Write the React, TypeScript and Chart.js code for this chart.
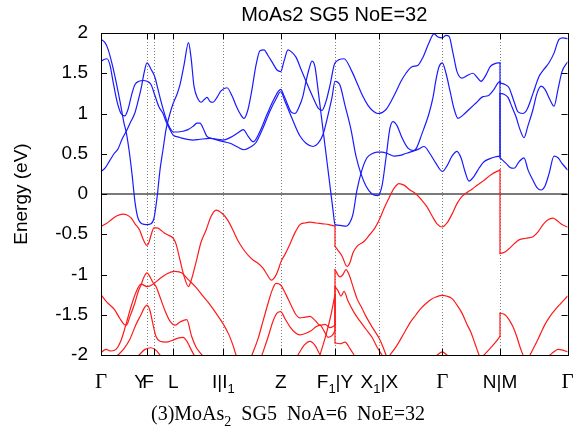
import React, { useEffect, useRef } from "react";
import { Chart, registerables } from "chart.js";
Chart.register(...registerables);

// High-symmetry k-path positions (path distance units) and their labels
const KPOINTS = [101, 146.7, 154, 173.3, 223.3, 280.7, 335, 379.3, 442.3, 500, 567.5];
const KLABELS = ["Γ", "Y", "F", "L", "I|I_1", "Z", "F_1|Y", "X_1|X", "Γ", "N|M", "Γ"];
const E_MIN = -2;
const E_MAX = 2;
const E_STEP = 0.5;

const TITLE = "MoAs2 SG5 NoE=32";
const CAPTION = "(3)MoAs_2  SG5  NoA=6  NoE=32";
const Y_TITLE = "Energy (eV)";

// Conduction bands (blue): [k, E(eV)]
const cb1: number[][] = [[101,1.92],[105,1.88],[108,1.8],[112,1.62],[116,1.4],[120,1.15],[124,0.88],[126,0.78],[129,0.55],[132,0.25],[135,-0.1],[138,-0.3],[142,-0.37],[146.7,-0.38],[151,-0.37],[154,-0.3],[157,-0.05],[160,0.3],[163,0.55],[166,0.8],[170,1.0],[173.3,1.13],[177,1.24],[180,1.36],[184,1.6],[188.5,1.88],[191,1.7],[194,1.34],[198,1.18],[201,1.14],[204,1.17],[207,1.2],[210,1.15],[213,1.14],[217,1.2],[221,1.28],[227,1.32],[232,1.22],[236,1.1],[240,1.0],[244,0.94],[248,1.05],[252,1.3],[256,1.6],[260,1.78],[264,1.79],[268,1.72],[273,1.62],[277,1.54],[280.7,1.52],[284,1.65],[288,1.79],[292,1.76],[296,1.7],[301,1.55],[306,1.4],[313,1.2],[318,1.07],[322,1.04],[326,1.15],[330,1.35],[335,1.63],[344,1.68],[352,1.52],[358,1.35],[363,1.21],[368,1.1],[373,1.03],[378,1.0],[386,1.05],[391,1.15],[396,1.27],[401,1.4],[406,1.5],[412,1.58],[418,1.6],[423,1.7],[429,1.88],[434,1.99],[438,1.95],[442.3,1.94],[446,1.97],[449,1.96],[453,1.75],[457,1.52],[462,1.44],[467,1.47],[473,1.5],[477,1.45],[481,1.4],[486,1.48],[490,1.58],[495,1.62],[500,1.63],[500,1.38],[505,1.36],[509,1.32],[514,1.15],[518,1.02],[522.7,1.0],[527,1.05],[533,1.25],[539,1.46],[544,1.55],[549,1.63],[554,1.75],[559,1.92],[563,1.94],[567.5,1.93]];
const cb2: number[][] = [[101,1.65],[104,1.67],[107,1.68],[110,1.6],[113,1.4],[117,1.15],[121,1.0],[124.7,0.97],[128,1.05],[132,1.25],[135,1.36],[139,1.4],[143,1.41],[147,1.4],[151,1.36],[155,1.22],[159,1.08],[163,1.0],[166,0.9],[170,0.8],[173.3,0.73],[178,0.71],[183,0.69],[193,0.67],[200,0.68],[210,0.69],[220,0.66],[230,0.63],[238,0.58],[244,0.55],[250,0.58],[256,0.64],[263,0.82],[270,1.03],[276,1.18],[280.7,1.27],[285,1.15],[290,1.0],[295,0.85],[300,0.72],[306,0.63],[313,0.59],[318,0.63],[323,0.74],[328,0.98],[332,1.2],[335,1.4],[340,1.35],[345,1.1],[351,0.8],[356,0.47],[361,0.25],[366,0.1],[372,0.0],[377.7,-0.02],[382,0.1],[386,0.45],[390,0.82],[393,0.9],[397,0.85],[402,0.7],[408,0.57],[414,0.54],[419,0.56],[424,0.59],[430,0.5],[436,0.38],[442.3,0.28],[447,0.35],[452,0.47],[457,0.53],[461,0.45],[465,0.28],[469,0.16],[474,0.22],[479,0.32],[484,0.4],[490,0.44],[495,0.46],[500,0.47],[500,1.25],[504,1.24],[508,1.2],[512,1.08],[516,0.96],[520,0.8],[524,0.7],[528,0.85],[533,1.05],[537,1.25],[541,1.34],[545,1.3],[550,1.17],[554,1.09],[558,1.3],[562,1.52],[567.5,1.64]];
const cb3: number[][] = [[101,0.28],[105,0.32],[110,0.42],[114,0.5],[118,0.56],[122,0.68],[126.3,0.78],[130,0.88],[134.7,1.0],[138,1.15],[141.3,1.32],[144,1.5],[147,1.63],[151,1.55],[154.7,1.46],[158,1.3],[161,1.15],[164.7,0.99],[168,0.87],[171,0.8],[173.3,0.77],[178,0.77],[183,0.78],[188,0.8],[193,0.84],[197,0.88],[200,0.88],[203,0.82],[206.7,0.72],[212,0.69],[218,0.68],[223,0.67],[230,0.7],[238,0.76],[243.3,0.8],[248,0.72],[253.3,0.65],[260,0.78],[266.7,0.98],[274,1.18],[280.7,1.3],[284,1.22],[288,1.1],[291,1.02],[295,1.0],[299,1.08],[303,1.22],[306,1.4],[309,1.55],[312,1.65],[315,1.58],[318,1.3],[321,1.0],[324,0.7],[327,0.4],[330,0.1],[333,-0.2],[335,-0.38],[340,-0.39],[346,-0.4],[350,-0.35],[353,-0.25],[357,0.05],[362,0.3],[367,0.45],[372,0.5],[377,0.52],[382,0.52],[388,0.5],[394,0.47],[400,0.48],[405,0.5],[410,0.52],[416,0.56],[422,0.75],[429,1.0],[433,1.2],[436,1.42],[439,1.58],[442.3,1.63],[446,1.5],[450,1.28],[454,1.06],[458,0.94],[463,0.98],[469,1.05],[476,1.13],[483,1.21],[488,1.22],[494,1.3],[498,1.38],[500,1.4],[500,0.45],[506,0.38],[510,0.33],[514,0.32],[519,0.4],[524,0.45],[528,0.3],[533,0.17],[537,0.08],[541,0.05],[545,0.1],[549,0.25],[554,0.47],[558,0.45],[562,0.38],[567.5,0.3]];

// Valence bands (red): [k, E(eV)]
const vb1: number[][] = [[101,-0.4],[106,-0.37],[111.3,-0.32],[117,-0.27],[123,-0.25],[127,-0.26],[131.3,-0.3],[135,-0.37],[139.7,-0.45],[143,-0.56],[147,-0.64],[149,-0.6],[151.3,-0.5],[154,-0.42],[157,-0.42],[160,-0.44],[164,-0.48],[168,-0.51],[173.3,-0.55],[176,-0.62],[180,-0.82],[184,-1.02],[188.5,-1.15],[191,-1.08],[196,-0.85],[201,-0.6],[206,-0.45],[211,-0.28],[216,-0.2],[222,-0.24],[228,-0.33],[233,-0.45],[238,-0.58],[243,-0.68],[248,-0.76],[253,-0.82],[258,-0.86],[263,-0.92],[267,-1.0],[271.5,-1.07],[275,-1.03],[278,-0.95],[281,-0.84],[285,-0.75],[290,-0.62],[295,-0.48],[300,-0.38],[305,-0.36],[310,-0.35],[316,-0.36],[323,-0.37],[329,-0.38],[335,-0.4],[335,-0.65],[338,-0.7],[342,-0.77],[347,-0.9],[350,-0.85],[353,-0.73],[357,-0.65],[364,-0.59],[370,-0.5],[375,-0.42],[379.3,-0.32],[384,-0.18],[389,-0.05],[394,0.07],[399,0.13],[404,0.11],[410,0.05],[416,0.0],[422,-0.08],[427,-0.16],[432,-0.27],[437,-0.37],[442.3,-0.41],[447,-0.36],[452,-0.25],[457,-0.12],[462,-0.03],[467,0.02],[472,0.06],[477,0.11],[483,0.16],[491,0.24],[500,0.3],[500,-0.74],[505,-0.72],[509,-0.68],[514,-0.62],[519,-0.57],[526,-0.55],[533,-0.53],[538,-0.47],[543,-0.38],[548,-0.32],[553,-0.3],[557,-0.33],[562,-0.38],[567.5,-0.41]];
const vb2: number[][] = [[101,-1.25],[106,-1.33],[110,-1.38],[114.7,-1.44],[120,-1.55],[124,-1.62],[126.3,-1.63],[130,-1.52],[134.7,-1.36],[138,-1.22],[141.3,-1.12],[144,-1.03],[147,-0.98],[150,-1.03],[153,-1.1],[156,-1.15],[160,-1.28],[165,-1.45],[170,-1.58],[175,-1.63],[180,-1.59],[186.7,-1.56],[191.7,-1.77],[196,-1.9],[200,-1.97],[202,-2.0]];
const vb3: number[][] = [[101,-1.97],[106,-1.93],[111,-1.95],[116,-1.93],[121,-1.82],[126,-1.62],[131,-1.4],[136,-1.22],[141,-1.12],[147,-1.15],[153,-1.12],[160,-1.05],[167,-0.99],[175,-0.96],[182,-0.98],[188,-1.06],[196,-1.16],[203,-1.27],[209,-1.36],[216,-1.48],[223,-1.61],[229,-1.75],[233,-1.88],[236,-2.0]];
const vb4: number[][] = [[118,-2.0],[124,-1.92],[130,-1.8],[136,-1.62],[141,-1.5],[144,-1.42],[147,-1.38],[150,-1.45],[153,-1.62],[156,-1.77],[160,-1.83],[166,-1.84],[172,-1.82],[178,-1.79],[183,-1.78],[187,-1.83],[191,-1.93],[194,-2.0]];
const vb5: number[][] = [[139,-2.0],[145,-1.93],[151,-1.91],[156,-1.94],[160,-2.0]];
const vb6: number[][] = [[252,-2.0],[258,-1.8],[263,-1.58],[268,-1.36],[272,-1.2],[276,-1.11],[280.7,-1.13],[286,-1.25],[291,-1.38],[296,-1.5],[300,-1.54],[305,-1.53],[310,-1.52],[315,-1.57],[320,-1.63],[325,-1.62],[330,-1.66],[335,-1.63],[335,-0.94],[340,-1.03],[343,-1.0],[346,-0.94],[349,-1.0],[353,-1.15],[357,-1.3],[362,-1.42],[366,-1.52],[372,-1.65],[379,-1.79],[383,-1.9],[386,-2.0]];
const vb7: number[][] = [[262,-2.0],[268,-1.78],[273,-1.58],[277,-1.48],[280.7,-1.46],[285,-1.55],[290,-1.65],[295,-1.72],[300,-1.75],[306,-1.73],[311,-1.7],[316,-1.65],[320,-1.63],[324,-1.7],[328,-1.78],[332,-1.76],[335,-1.7],[335,-1.15],[338,-1.2],[341,-1.27],[344,-1.21],[348,-1.33],[354,-1.47],[360,-1.58],[366,-1.68],[372,-1.78],[377,-1.9],[382,-2.0]];
const vb8: number[][] = [[320,-2.0],[326,-1.75],[331,-1.5],[335,-1.25],[335,-1.85],[340,-1.86],[345,-1.84],[350,-1.92],[354,-2.0]];
const vb9: number[][] = [[298,-2.0],[304,-1.88],[310,-1.83],[315,-1.88],[320,-2.0]];
const vb10: number[][] = [[390,-2.0],[397,-1.88],[404,-1.73],[410,-1.6],[416,-1.5],[421,-1.42],[426,-1.36],[431,-1.31],[436,-1.28],[442.3,-1.26],[447,-1.27],[452,-1.3],[457,-1.38],[462,-1.48],[467,-1.62],[471,-1.72],[475,-1.86],[479,-2.0]];
const vb11: number[][] = [[437,-2.0],[442.3,-1.96],[447,-2.0]];
const vb12: number[][] = [[484,-2.0],[490,-1.92],[495,-1.85],[500,-1.77],[500,-1.48],[505,-1.5],[509,-1.56],[513,-1.65],[517,-1.78],[520,-1.9],[523,-2.0]];
const vb13: number[][] = [[530,-2.0],[535,-1.88],[540,-1.75],[545,-1.62],[550,-1.52],[555,-1.44],[560,-1.37],[567.5,-1.27]];
const vb14: number[][] = [[550,-2.0],[554,-1.96],[558,-1.93],[563,-1.94],[567.5,-1.96]];

const CONDUCTION = [cb1, cb2, cb3];
const VALENCE = [vb1, vb2, vb3, vb4, vb5, vb6, vb7, vb8, vb9, vb10, vb11, vb12, vb13, vb14];

const BLUE = "#1a1aff";
const RED = "#ff1a1a";
const SANS = "'Liberation Sans', Arial, sans-serif";
const SERIF = "'Liberation Serif', 'Times New Roman', serif";

function bandDatasets(band: number[][], color: string) {
  const out: any[] = [];
  const base = { showLine: true, pointRadius: 0, borderColor: color, borderWidth: 1.2, fill: false };
  let cur: number[][] = [band[0]];
  for (let i = 1; i < band.length; i++) {
    if (band[i][0] === band[i - 1][0]) {
      out.push({ ...base, data: cur.map(([x, y]) => ({ x, y })), cubicInterpolationMode: "monotone" });
      out.push({ ...base, data: [band[i - 1], band[i]].map(([x, y]) => ({ x, y })), tension: 0 });
      cur = [band[i]];
    } else cur.push(band[i]);
  }
  out.push({ ...base, data: cur.map(([x, y]) => ({ x, y })), cubicInterpolationMode: "monotone" });
  return out;
}

function drawRich(ctx: CanvasRenderingContext2D, text: string, cx: number, baseline: number, size: number, family: string) {
  const parts: { t: string; sub: boolean }[] = [];
  const re = /_(.)/g;
  let last = 0;
  let m: RegExpExecArray | null;
  while ((m = re.exec(text))) {
    if (m.index > last) parts.push({ t: text.slice(last, m.index), sub: false });
    parts.push({ t: m[1], sub: true });
    last = m.index + 2;
  }
  if (last < text.length) parts.push({ t: text.slice(last), sub: false });
  const subSize = Math.round(size * 0.7);
  let total = 0;
  for (const p of parts) {
    ctx.font = `${p.sub ? subSize : size}px ${family}`;
    total += ctx.measureText(p.t).width;
  }
  let x = cx - total / 2;
  ctx.textAlign = "left";
  ctx.textBaseline = "alphabetic";
  for (const p of parts) {
    ctx.font = `${p.sub ? subSize : size}px ${family}`;
    ctx.fillText(p.t, x, baseline + (p.sub ? size * 0.28 : 0));
    x += ctx.measureText(p.t).width;
  }
}

const decor = {
  id: "decor",
  beforeDatasetsDraw(chart: any) {
    const { ctx, chartArea: a, scales } = chart;
    const x = scales.x, y = scales.y;
    ctx.save();
    ctx.strokeStyle = "#808080";
    ctx.lineWidth = 1;
    ctx.setLineDash([1, 2]);
    for (const k of KPOINTS.slice(1, -1)) {
      const px = Math.round(x.getPixelForValue(k)) + 0.5;
      ctx.beginPath();
      ctx.moveTo(px, a.top);
      ctx.lineTo(px, a.bottom);
      ctx.stroke();
    }
    ctx.setLineDash([]);
    ctx.strokeStyle = "#7a7a7a";
    ctx.lineWidth = 2;
    const py = y.getPixelForValue(0);
    ctx.beginPath();
    ctx.moveTo(a.left, py);
    ctx.lineTo(a.right, py);
    ctx.stroke();
    ctx.restore();
  },
  afterDatasetsDraw(chart: any) {
    const { ctx, chartArea: a, scales } = chart;
    const x = scales.x, y = scales.y;
    ctx.save();
    ctx.strokeStyle = "#000";
    ctx.lineWidth = 1;
    ctx.strokeRect(Math.round(a.left) + 0.5, Math.round(a.top) + 0.5, Math.round(a.right - a.left), Math.round(a.bottom - a.top));
    // inner ticks
    const tl = 6;
    ctx.beginPath();
    for (let v = E_MIN; v <= E_MAX + 1e-9; v += E_STEP) {
      const py = Math.round(y.getPixelForValue(v)) + 0.5;
      ctx.moveTo(a.left, py); ctx.lineTo(a.left + tl, py);
      ctx.moveTo(a.right, py); ctx.lineTo(a.right - tl, py);
    }
    for (const k of KPOINTS) {
      const px = Math.round(x.getPixelForValue(k)) + 0.5;
      ctx.moveTo(px, a.bottom); ctx.lineTo(px, a.bottom - tl);
      ctx.moveTo(px, a.top); ctx.lineTo(px, a.top + tl);
    }
    ctx.stroke();
    // x labels
    ctx.fillStyle = "#000";
    const base = a.bottom + 33;
    KLABELS.forEach((lab, i) => {
      let cx = x.getPixelForValue(KPOINTS[i]);
      if (lab === "Y" || lab === "F") cx -= 6;
      if (lab === "Γ") drawRich(ctx, lab, cx, base, 21, SERIF);
      else drawRich(ctx, lab, cx, base, 19, SANS);
    });
    // title
    drawRich(ctx, TITLE, (a.left + a.right) / 2, 21, 20, SANS);
    // caption
    drawRich(ctx, CAPTION, chart.width / 2, 420, 20, SERIF);
    ctx.restore();
  },
};

export default function App() {
  const ref = useRef<HTMLCanvasElement>(null);
  useEffect(() => {
    const datasets: any[] = [];
    CONDUCTION.forEach((b) => datasets.push(...bandDatasets(b, BLUE)));
    VALENCE.forEach((b) => datasets.push(...bandDatasets(b, RED)));
    const chart = new Chart(ref.current!, {
      type: "scatter",
      data: { datasets },
      options: {
        animation: false,
        responsive: false,
        devicePixelRatio: 1,
        layout: { padding: { top: 33, right: 8.5, bottom: 86, left: 0 } },
        plugins: { legend: { display: false }, tooltip: { enabled: false }, title: { display: false } },
        elements: { line: { borderCapStyle: "round", borderJoinStyle: "round" } },
        scales: {
          x: { type: "linear", display: false, min: KPOINTS[0], max: KPOINTS[KPOINTS.length - 1] },
          y: {
            type: "linear",
            min: E_MIN,
            max: E_MAX,
            afterFit: (s: any) => { s.width = 101; },
            grid: { display: false, drawTicks: false },
            border: { display: true, color: "#000", width: 1 },
            ticks: {
              stepSize: E_STEP,
              padding: 13,
              color: "#000",
              font: { family: SANS, size: 19 },
              callback: (v: any) => String(v),
            },
            title: { display: true, text: Y_TITLE, color: "#000", font: { family: SANS, size: 19 }, padding: { top: 10, bottom: 0 } },
          },
        },
      },
      plugins: [decor],
    });
    return () => chart.destroy();
  }, []);
  return (
    <div style={{ position: "fixed", left: 0, top: 0, width: 576, height: 441, background: "#fff" }}>
      <canvas ref={ref} width={576} height={441} style={{ width: 576, height: 441 }} />
    </div>
  );
}
